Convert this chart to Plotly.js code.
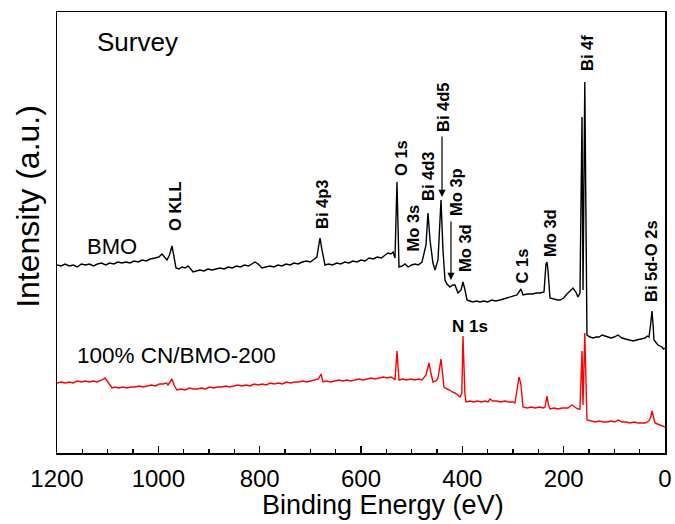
<!DOCTYPE html>
<html>
<head>
<meta charset="utf-8">
<script src="https://cdn.plot.ly/plotly-3.0.1.min.js"></script>
<style>html,body{margin:0;padding:0;background:#fff;}#chart{width:675px;height:524px;}</style>
</head>
<body>
<div id="chart"></div>
<script>
// Binding energy (eV) and intensity (a.u.)
var bmoEnergy = [1200,1192,1184,1176,1168,1160,1152,1144,1136,1128,1120,1112,1104,1096,1088,1080,1072,1064,1056,1048,1040,1032,1024,1016,1006.6,999,992.8,987,982.9,978,973,969,965.1,959,953.3,947,941.4,936,931.6,925,918,910,902,894,886,878,870,862,854,846,838,830,822,814,809.2,803,795.4,788,780,772,764,756,748,740,732,724,716,708,700,692,687,684.9,680.9,677,674,671.1,664,656,648,640,632,624,616,608,600,592,584,576,568,560,552,546.7,541,536.8,532.9,529,525,519,513.2,507,500,493.4,487,479.6,471.7,467.8,463.8,458,453.9,448,442.1,438.2,434.2,430.3,424.4,419,414.5,411,408.6,402.6,398.7,394.7,390.8,385,380,372,365.1,358,350,342,334,325.7,318,310,302,292.1,284.2,280.3,272,262,254,246.7,238.8,234.9,232.9,231,227,220,212,207.3,200,193.4,187,181.6,176,171.7,167.8,163.8,161.8,158.3,154,148,142.1,136,130,124,118.4,112,106.6,100,92.7,88,84.9,78,70,63.2,56,50,44,39.5,35,31.6,28.5,25.7,23.5,21.8,17,13.9,10,6.1,3,0];
var bmoIntensity = [188,187,189,187,188,186,189,188,189,187,189,190,188,190,189,191,190,191,190,192,191,193,192,194,195,196,199,195,193,198,207,196,185,184,186,185,187,184,181,182,183,182,184,183,184,185,184,186,185,187,186,188,187,189,191,189,185,186,187,186,188,187,189,188,190,189,191,192,191,194,196,203,215,203,194,188,189,188,190,189,191,190,192,191,193,192,195,194,196,195,198,200,199,201,195,271,186,187,189,186,188,189,188,191,208,240,213,190,183,193,253,203,173,169,166,168,168,163,160,163,171,163,153,152,151,152,151,152,151,153,152,153,154,155,156,158,164,158,159,159,160,160,161,189,191,183,155,154,153,153,155,159,162,165,161,156,160,336,163,371,118,116,115,116,116,118,117,116,115,116,118,116,115,114,113,112,113,114,115,115,117,116,128,142,128,113,110,108,107,106,104,105];

var cnEnergy = [1200,1192,1184,1176,1168,1160,1152,1144,1136,1128,1121,1115,1111.2,1105.3,1099.3,1094,1091.4,1085,1078,1070,1062,1054,1046,1038,1030,1022,1014,1006,998,990.8,984,980.9,976,973,969,963.2,955,947,939,931,923,915,907,899,891,883,875,867,859,851,843,835,827,819,811,803,795,787,779,771,763,755,747,739,731,723,715,707,699,691,684,679,675,668,660,652,644,636,628,620,612,604,596,588,580,572,564,556,548,541,536.8,532.9,529,525,518,510,502,494,486,479.6,471.7,467,465.8,462,457.9,452,448,442.1,438,436.2,430,425,420,414.5,409,404.6,401,398.7,395,392.8,385,378,370,362,355,349.3,345.4,340,332,324,316,308,300,296.1,290,288.2,286,284.2,282,280.3,272,264,256,248,240,236.8,232.9,230,227,219,211,203,195,191.5,187,183.6,178,172,167.8,163.8,161.8,158.3,154,146,138,130,122,114,106,98.7,92.7,88,84.9,77,69,61,53,45,39.5,32,28,25.7,23,19.7,15,10,5,0];
var cnIntensity = [70,71,70,71,70,72,71,72,71,72,71,72,73,75,71,67,65,66,65,66,65,66,66,67,66,67,68,67,69,69,70,68,71,74,68,63,64,63,65,64,64,65,64,66,65,66,66,67,66,67,68,67,68,67,69,68,69,68,70,69,70,69,71,70,71,71,72,71,72,73,74,79,71,72,71,72,73,72,73,72,73,74,73,74,75,74,75,76,75,76,75,73,102,73,74,73,74,73,74,73,78,89,90,80,71,72,75,94,75,66,64,63,61,60,58,56,60,117,60,51,52,51,52,51,52,51,54,52,52,51,52,51,51,50,70,76,72,68,55,46,45,46,45,46,45,46,57,48,44,45,44,45,45,45,47,48,46,44,44,102,48,120,33,32,31,32,31,31,32,31,33,32,31,31,30,31,30,30,30,32,36,42,35,30,29,28,27,26];

var tickVals = [1200,1000,800,600,400,200,0];
var tickText = ["1200","1000","800","600","400","200","0"];

// Peak labels: text, energy of label centre, intensity at label bottom
var peakNames = ["O KLL","Bi 4p3","O 1s","Mo 3s","Bi 4d3","Bi 4d5","Mo 3p","Mo 3d","C 1s","Mo 3d","Bi 4f","Bi 5d-O 2s"];
var peakLabelE = [967.1,677,521.1,497.4,467.8,438.2,412.5,394.7,284.2,227,153.9,27.6];
var peakLabelI = [221,223,276,201,251,320,236,180,168,195,381,150];

// Arrows: tip position
var arrowE = [440.1,422.4];
var arrowI = [256,173];
var arrowLen = [62,60];

var FONT = "Liberation Sans, Arial, Helvetica, sans-serif";

var annotations = [];
for (var i = 0; i < peakNames.length; i++) {
  annotations.push({
    x: peakLabelE[i], y: peakLabelI[i], xref: "x", yref: "y",
    text: "<b>" + peakNames[i] + "</b>", textangle: -90, showarrow: false,
    xanchor: "center", yanchor: "bottom", borderpad: 0,
    font: {family: FONT, size: 16.5, color: "#000"}
  });
}
for (var j = 0; j < arrowE.length; j++) {
  annotations.push({
    x: arrowE[j], y: arrowI[j], xref: "x", yref: "y", text: "",
    showarrow: true, arrowhead: 2, arrowsize: 1.2, arrowwidth: 1.2, arrowcolor: "#000",
    ax: 0, ay: -arrowLen[j], standoff: 0
  });
}
annotations.push({x: 384.9, y: 127, xref: "x", yref: "y", text: "<b>N 1s</b>", showarrow: false,
  font: {family: FONT, size: 17, color: "#000"}});
annotations.push({x: 1091.4, y: 207, xref: "x", yref: "y", text: "BMO", showarrow: false,
  font: {family: FONT, size: 22, color: "#000"}});
annotations.push({x: 965.1, y: 98, xref: "x", yref: "y", text: "100% CN/BMO-200", showarrow: false,
  font: {family: FONT, size: 22.5, color: "#000"}});
annotations.push({x: 1042.1, y: 411, xref: "x", yref: "y", text: "Survey", showarrow: false,
  font: {family: FONT, size: 26, color: "#000"}});
annotations.push({x: 0.536, y: -0.118, xref: "paper", yref: "paper", text: "Binding Energy (eV)", showarrow: false,
  yanchor: "middle", font: {family: FONT, size: 27, color: "#000"}});
annotations.push({x: -0.048, y: 0.56, xref: "paper", yref: "paper", text: "Intensity (a.u.)", showarrow: false,
  textangle: -90, xanchor: "center", font: {family: FONT, size: 32, color: "#000"}});

var traces = [
  {x: bmoEnergy, y: bmoIntensity, type: "scatter", mode: "lines", name: "BMO",
   line: {color: "#000000", width: 1.4}},
  {x: cnEnergy, y: cnIntensity, type: "scatter", mode: "lines", name: "100% CN/BMO-200",
   line: {color: "#ff0000", width: 1.4}}
];

var layout = {
  width: 675, height: 524,
  margin: {l: 57, r: 10, t: 12, b: 71},
  paper_bgcolor: "#fff", plot_bgcolor: "#fff",
  showlegend: false,
  font: {family: FONT, color: "#000"},
  xaxis: {
    range: [1200, 0], showgrid: false, zeroline: false,
    showline: true, linecolor: "#000", linewidth: 1.5, mirror: true,
    ticks: "inside", ticklen: 7, tickwidth: 1.3, tickcolor: "#000",
    tickvals: tickVals, ticktext: tickText, ticklabelstandoff: 4,
    tickfont: {family: FONT, size: 24, color: "#000"},
    minor: {dtick: 50, tick0: 0, ticks: "inside", ticklen: 4, tickwidth: 1.2, tickcolor: "#000"}
  },
  yaxis: {
    range: [0, 441], showgrid: false, zeroline: false,
    showline: true, linecolor: "#000", linewidth: 1.5, mirror: true,
    ticks: "", showticklabels: false
  },
  annotations: annotations
};

Plotly.newPlot("chart", traces, layout, {displayModeBar: false, staticPlot: true});
</script>
</body>
</html>
